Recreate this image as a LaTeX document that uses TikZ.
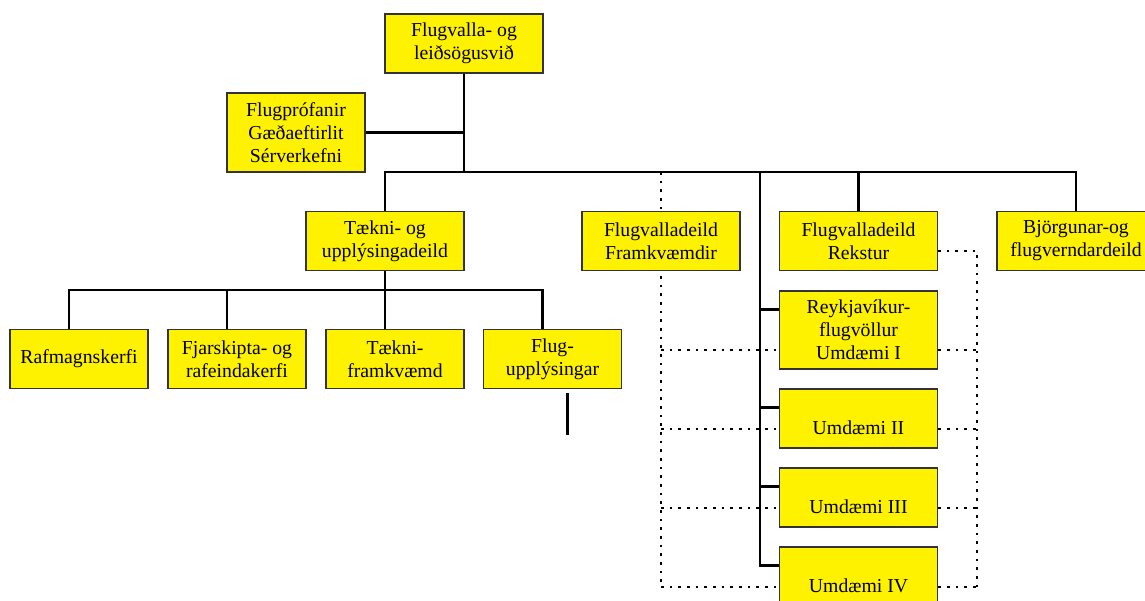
\documentclass[tikz,border=0pt]{standalone}
\usepackage{fontspec}
\setmainfont{Liberation Serif}
\usetikzlibrary{backgrounds}

\begin{document}
\begin{tikzpicture}[x=0.75pt,y=-0.75pt,
  unit/.style={draw=black!80, fill=yellow, line width=0.8pt, align=center, inner sep=0pt,
    font=\fontsize{14.8}{17.25}\selectfont, minimum width=118.5pt, minimum height=44.25pt},
  subunit/.style={unit, minimum width=103.5pt},
  link/.style={line width=2.2pt},
  dotlink/.style={line width=1.5pt, dash pattern=on 2pt off 4.5pt}]
\useasboundingbox (0,0) rectangle (1145,600);

\node[unit] (svid) at (464,43.5) {Flugvalla- og\\leiðsögusvið};
\node[subunit, minimum height=59.25pt] (flugpr) at (296,132.5) {Flugprófanir\\Gæðaeftirlit\\Sérverkefni};

\node[unit] (taekni) at (385,241) {Tækni- og\\upplýsingadeild};
\node[unit] (framkv) at (661,241) {Flugvalladeild\\Framkvæmdir};
\node[unit] (rekstur) at (858.5,241) {Flugvalladeild\\Rekstur};
\node[unit] (bjorg) at (1076,241) {Björgunar-og\\flugverndardeild};

\node[subunit] (raf) at (79,359) {Rafmagnskerfi};
\node[subunit] (fjar) at (237,359) {Fjarskipta- og\\rafeindakerfi};
\node[subunit] (tfram) at (395,359) {Tækni-\\framkvæmd};
\node[subunit] (flugu) at (552.5,359) {Flug-\\upplýsingar};

\node[unit, minimum height=58.5pt] (reyk) at (858.5,330) {Reykjavíkur-\\flugvöllur\\Umdæmi I};
\node[unit] (umd2) at (858.5,418.5) {\strut\\Umdæmi II\strut};
\node[unit] (umd3) at (858.5,497.5) {\strut\\Umdæmi III\strut};
\node[unit] (umd4) at (858.5,576.5) {\strut\\Umdæmi IV\strut};

\begin{scope}[on background layer]
\coordinate (bus) at (464,172);
\draw[link] (svid.south) -- (bus);
\draw[link] (flugpr.east) -- (flugpr.east -| svid.south);
\draw[link] (taekni.north) |- (bus) -| (bjorg.north);
\draw[link] (rekstur.north) -- (rekstur.north |- bus);

\coordinate (spine) at (760,172);
\draw[link] (spine) |- ([yshift=-14.25pt]umd4.north west);
\foreach \n in {reyk,umd2,umd3}
  \draw[link] ([yshift=-14.25pt]\n.north west) -| (spine);

\coordinate (sub) at (385,290);
\draw[link] (taekni.south) -- (sub);
\foreach \n in {raf,fjar,tfram,flugu}
  \draw[link] ([xshift=-7.5pt]\n.north) |- (sub);
\draw[link] ([xshift=10.9pt,yshift=-3pt]flugu.south) -- ++(0,42);

% dotted lines
\coordinate (d0) at ([yshift=15pt]rekstur.south east);
\coordinate (dr) at ([xshift=29.25pt]d0);
\foreach \n/\m in {reyk/d1,umd2/d2,umd3/d3,umd4/d4}
  \coordinate (\m) at ([yshift=15pt]\n.south);
\draw[dotlink] (framkv.north |- bus) -- (framkv |- d4);
\draw[dotlink] (d0) -- (dr) -- (dr |- d4);
\foreach \m in {d1,d2,d3,d4}
  \draw[dotlink] (framkv |- \m) -- (dr |- \m);
\end{scope}
\end{tikzpicture}
\end{document}
